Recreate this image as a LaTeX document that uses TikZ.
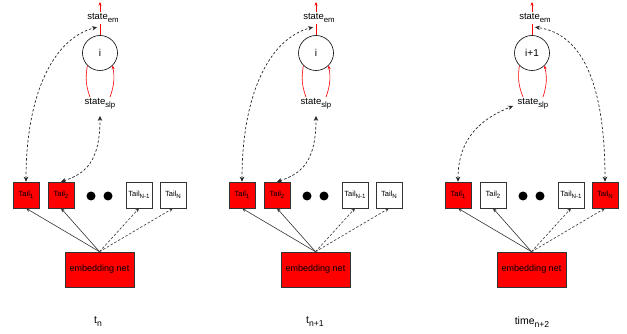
\documentclass[tikz,border=0pt]{standalone}
\usepackage{fontspec}
\usepackage{graphicx}
\setmainfont{Liberation Sans}
\usetikzlibrary{arrows.meta,calc}
\newcommand\sbx[1]{\raisebox{-0.28em}{\scalebox{0.82}{#1}}}
\tikzset{
 tailbox/.style={draw=black!80, line width=0.6pt, minimum width=26pt, minimum height=26pt, inner sep=0pt, font=\fontsize{7.5}{8}\selectfont},
 redbox/.style={tailbox, fill=red},
 whitebox/.style={tailbox, fill=white},
 netbox/.style={draw=black!80, line width=0.6pt, fill=red, minimum width=69pt, minimum height=35pt, inner sep=0pt, font=\fontsize{9}{10}\selectfont},
 statecirc/.style={circle, draw=black, line width=0.6pt, minimum size=35pt, inner sep=0pt, font=\fontsize{10}{12}\selectfont},
 statelbl/.style={inner sep=1.5pt, font=\fontsize{9.5}{10}\selectfont},
 dotnode/.style={circle, fill=black, minimum size=9pt, inner sep=0pt},
 redline/.style={draw=red, line width=0.6pt},
 redarrow/.style={redline, -{Stealth[length=3.5pt,width=3pt]}},
 feed/.style={draw=black!80, line width=0.6pt, -{Stealth[length=4pt,width=3.5pt]}},
 feeddash/.style={feed, dash pattern=on 2.5pt off 1.8pt},
 link/.style={draw=black!85, line width=0.7pt, dash pattern=on 2.5pt off 2pt, {Stealth[length=5pt,width=4.5pt]}-{Stealth[length=5pt,width=4.5pt]}},
 timelbl/.style={font=\fontsize{10.5}{12}\selectfont},
}
\begin{document}
\begin{tikzpicture}[x=1pt,y=-1pt]
\useasboundingbox (0,0) rectangle (627,334);

% ---------- panel 1 ----------
\node[statecirc] (c1) at (100,53) {i};
\node[statelbl] (em1) at (103,18) {state\sbx{em}};
\coordinate (top1) at (100,2);
\node[statelbl] (slp1) at (100,104) {state\sbx{slp}};
\draw[redline] (c1.north) -- (c1.north |- em1.south);
\draw[redarrow] (c1.north |- em1.north) -- (top1);
\draw[redline] (c1.225) to[bend right=15] ($(slp1.north)+(-10,0)$);
\draw[redarrow] ($(slp1.north)+(10,0)$) to[bend right=15] (c1.315);

\node[redbox] (t11) at (26,195) {Tail\sbx{1}};
\node[redbox] (t12) at (61,195) {Tail\sbx{2}};
\node[dotnode] (d11) at (91,196) {};
\node[dotnode] (d12) at (108,196) {};
\node[whitebox] (t1m) at (139,195) {Tail\sbx{N-1}};
\node[whitebox] (t1n) at (173,195) {Tail\sbx{N}};
\node[netbox] (net1) at (99.5,269.5) {embedding net};
\node[timelbl] (l1) at (98,322) {t\sbx{n}};

\draw[feed] (net1.north) -- (t11.south);
\draw[feed] (net1.north) -- (t12.south);
\draw[feeddash] (net1.north) -- (t1m.south);
\draw[feeddash] (net1.north) -- (t1n.south);

\draw[link] (t11.north) .. controls +(0,-85) and +(-45,12) .. ($(c1.north |- em1.south)+(-3,3)$);
\draw[link] (t12.north) .. controls +(25,-8) and +(0,45) .. ($(slp1.south)+(0,5)$);

% ---------- panel 2 ----------
\begin{scope}[xshift=216pt]
\node[statecirc] (c2) at (100,53) {i};
\node[statelbl] (em2) at (103,18) {state\sbx{em}};
\coordinate (top2) at (100,2);
\node[statelbl] (slp2) at (100,104) {state\sbx{slp}};
\draw[redline] (c2.north) -- (c2.north |- em2.south);
\draw[redarrow] (c2.north |- em2.north) -- (top2);
\draw[redline] (c2.225) to[bend right=15] ($(slp2.north)+(-10,0)$);
\draw[redarrow] ($(slp2.north)+(10,0)$) to[bend right=15] (c2.315);

\node[redbox] (t21) at (26,195) {Tail\sbx{1}};
\node[redbox] (t22) at (61,195) {Tail\sbx{2}};
\node[dotnode] (d21) at (91,196) {};
\node[dotnode] (d22) at (108,196) {};
\node[whitebox] (t2m) at (139,195) {Tail\sbx{N-1}};
\node[whitebox] (t2n) at (173,195) {Tail\sbx{N}};
\node[netbox] (net2) at (99.5,269.5) {embedding net};
\node[timelbl] (l2) at (99,322) {t\sbx{n+1}};

\draw[feed] (net2.north) -- (t21.south);
\draw[feed] (net2.north) -- (t22.south);
\draw[feeddash] (net2.north) -- (t2m.south);
\draw[feeddash] (net2.north) -- (t2n.south);

\draw[link] (t21.north) .. controls +(0,-85) and +(-45,12) .. ($(c2.north |- em2.south)+(-3,3)$);
\draw[link] (t22.north) .. controls +(25,-8) and +(0,45) .. ($(slp2.south)+(0,5)$);
\end{scope}

% ---------- panel 3 ----------
\begin{scope}[xshift=432pt]
\node[statecirc] (c3) at (100,53) {i+1};
\node[statelbl] (em3) at (103,18) {state\sbx{em}};
\coordinate (top3) at (100,2);
\node[statelbl] (slp3) at (101,104) {state\sbx{slp}};
\draw[redline] (c3.north) -- (c3.north |- em3.south);
\draw[redarrow] (c3.north |- em3.north) -- (top3);
\draw[redline] (c3.225) to[bend right=15] ($(slp3.north)+(-10,0)$);
\draw[redarrow] ($(slp3.north)+(10,0)$) to[bend right=15] (c3.315);

\node[redbox] (t31) at (26,195) {Tail\sbx{1}};
\node[whitebox] (t32) at (61,195) {Tail\sbx{2}};
\node[dotnode] (d31) at (91,196) {};
\node[dotnode] (d32) at (108,196) {};
\node[whitebox] (t3m) at (139,195) {Tail\sbx{N-1}};
\node[redbox] (t3n) at (173,195) {Tail\sbx{N}};
\node[netbox] (net3) at (99.5,269.5) {embedding net};
\node[timelbl] (l3) at (100,322) {time\sbx{n+2}};

\draw[feed] (net3.north) -- (t31.south);
\draw[feed] (net3.north) -- (t32.south);
\draw[feeddash] (net3.north) -- (t3m.south);
\draw[feeddash] (net3.north) -- (t3n.south);

\draw[link] (t31.north) .. controls +(0,-45) and +(-30,12) .. ($(slp3.west)+(-3,2)$);
\draw[link] (t3n.north) .. controls +(0,-92) and +(50,7) .. ($(c3.north |- em3.south)+(3,3)$);
\end{scope}
\end{tikzpicture}
\end{document}
